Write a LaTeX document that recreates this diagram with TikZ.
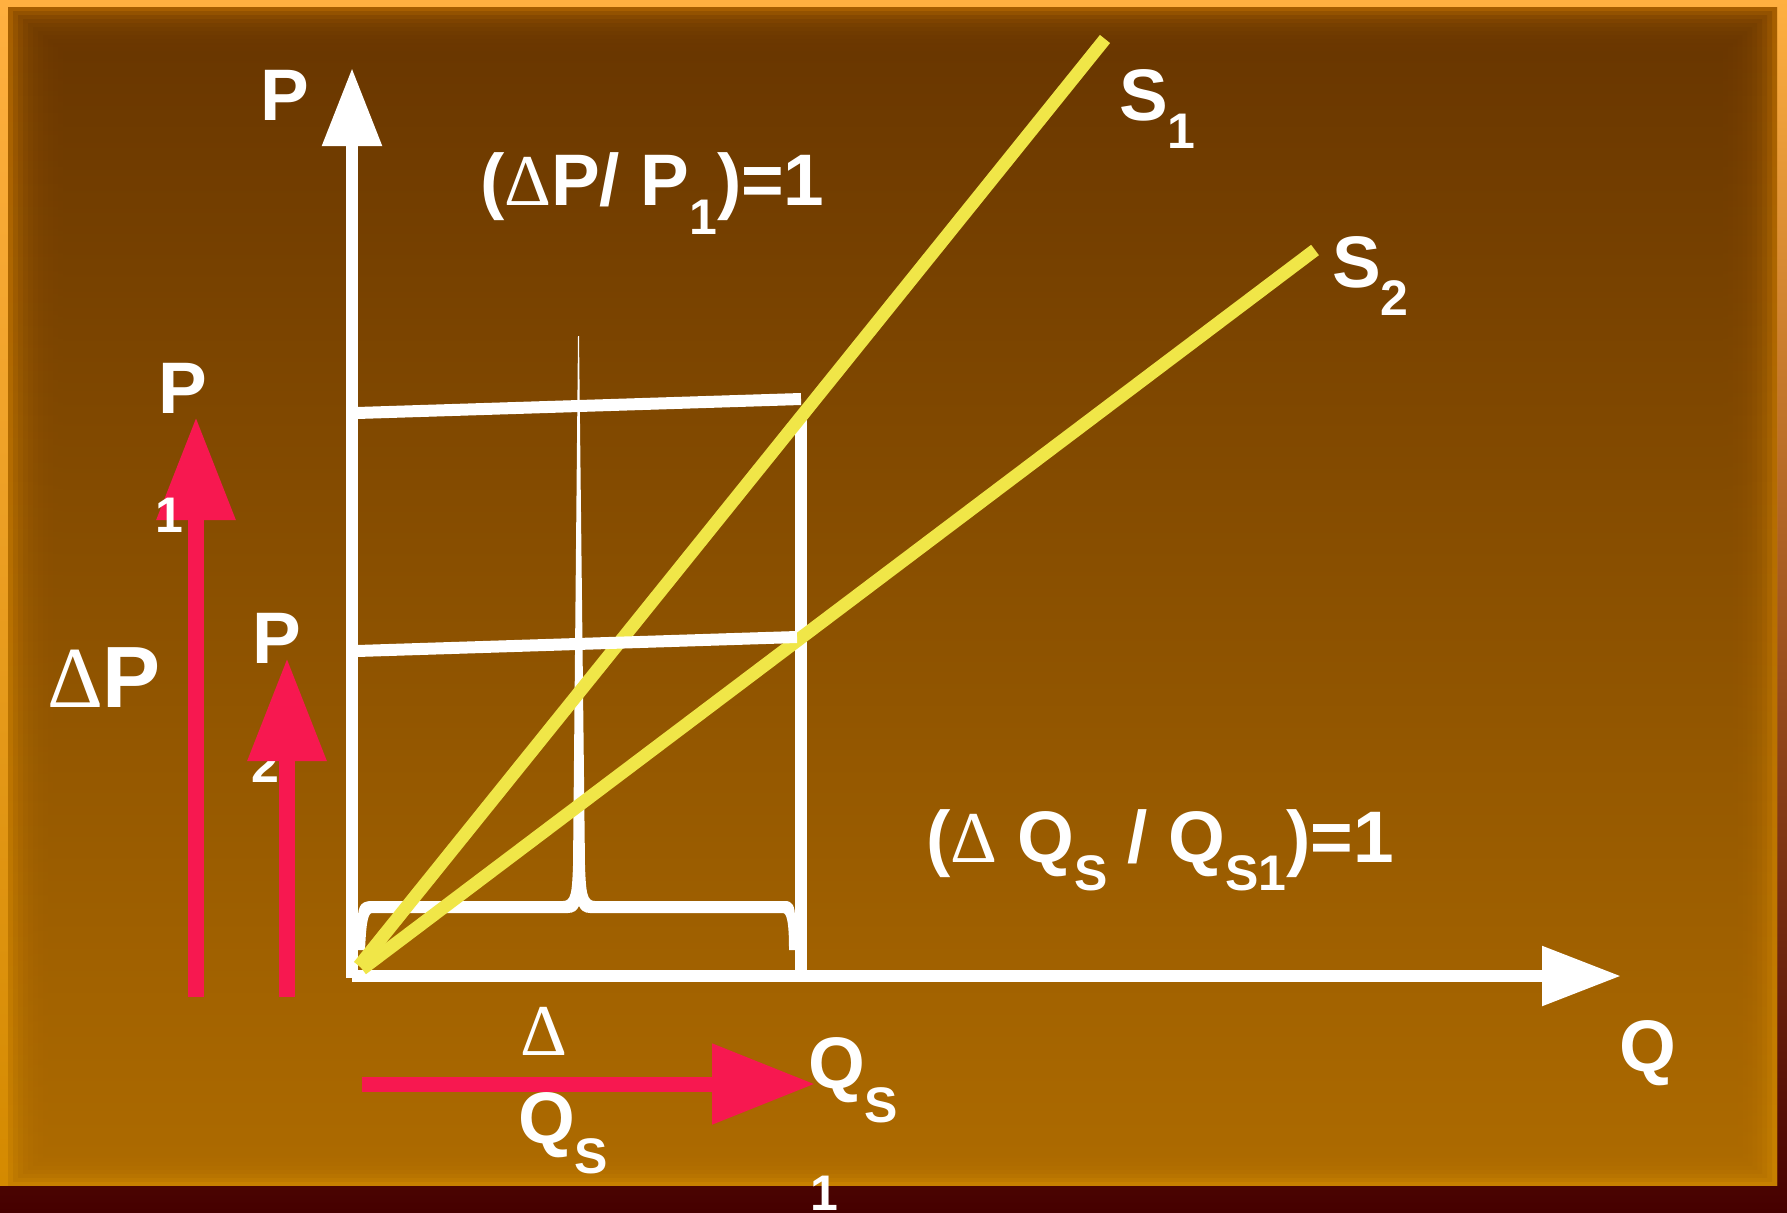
\documentclass[tikz,border=0pt]{standalone}
\usepackage{fontspec}
\setmainfont{Liberation Sans}
\newfontfamily\dl{Liberation Serif}
\usetikzlibrary{arrows.meta}
\definecolor{supplyyellow}{HTML}{F0E648}
\definecolor{arrowred}{HTML}{F71850}
\definecolor{frametop}{HTML}{FFB040}
\definecolor{framemid}{HTML}{A05600}
\definecolor{framebot}{HTML}{460000}
\definecolor{glowtop}{HTML}{C07000}
\definecolor{glowbot}{HTML}{D48A00}
\definecolor{browntop}{HTML}{6A3700}
\definecolor{brownbot}{HTML}{AC6A00}
\newcommand{\lowsub}[2][-28pt]{\raisebox{#1}{\fontsize{50}{50}\selectfont #2}}
\newcommand{\del}{{\dl\mdseries Δ}}
\tikzset{
  lbl/.style={text=white, inner sep=0pt, outer sep=0pt, anchor=base west,
    font=\bfseries\fontsize{73}{80}\selectfont},
  sublbl/.style={lbl, font=\bfseries\fontsize{50}{50}\selectfont},
  axisline/.style={draw=white, line width=12pt, -{Triangle[length=78pt,width=57pt]}},
  guide/.style={draw=white, line width=12pt},
  supply/.style={draw=supplyyellow, line width=13pt},
  redarrow/.style={draw=arrowred, line width=16pt, -{Triangle[length=103pt,width=75pt]}}
}
\begin{document}
\begin{tikzpicture}[x=1pt,y=-1pt]
% background
\useasboundingbox (0,0) rectangle (1787,1212);
\shade[top color=frametop, middle color=framemid, bottom color=framebot] (0,0) rectangle (1787,1212);
\shade[top color=frametop, bottom color=glowbot] (0,0) rectangle (1777,1185);
\shade[top color=glowtop, bottom color=glowbot] (8,8) rectangle (1777,1185);
\foreach \i in {0,...,11}{
  \shade[top color=browntop, bottom color=brownbot, opacity=0.3]
    ({8+5*\i},{8+4*\i}) rectangle ({1777-5*\i},{1185-4*\i});
}
% coordinates
\coordinate (O) at (352,978);
\coordinate (Ptip) at (352,68);
\coordinate (Xo) at (352,976);
\coordinate (Qtip) at (1621,976);
\coordinate (P1l) at (357,413);
\coordinate (P1r) at (801,399);
\coordinate (P2l) at (357,651);
\coordinate (P2r) at (797,637);
\coordinate (Vt) at (801,417);
\coordinate (Vb) at (801,976);
\coordinate (S1a) at (359,966);
\coordinate (S1b) at (1105,39);
\coordinate (S2a) at (362,969);
\coordinate (S2b) at (1315,250);
% label partly hidden by the P2 arrow head
\node[sublbl] (p2sub) at (251,782) {2};
% guide lines and brace
\draw[guide] (Vt) -- (Vb);
\fill[white] (358,950) -- (358,918) .. controls (358,905) and (362,901) .. (372,901)
  -- (563,901) .. controls (571,901) and (572,893) .. (573,866) -- (578,336) -- (579,336)
  -- (585,866) .. controls (586,893) and (587,901) .. (595,901) -- (785,901)
  .. controls (792,901) and (795,905) .. (795,918) -- (796,950) -- (789,950)
  .. controls (789,930) and (788,913) .. (783,913) -- (590,913)
  .. controls (584,913) and (581,910) .. (579,906) .. controls (577,910) and (574,913) .. (568,913)
  -- (372,913) .. controls (367,913) and (366,930) .. (365,950) -- cycle;
% axes
\draw[axisline] (O) -- (Ptip);
\draw[axisline, -{Triangle[length=79pt,width=57pt]}] (Xo) -- (Qtip);
% supply curves
\draw[supply] (S1a) -- (S1b);
\draw[supply] (S2a) -- (S2b);
\draw[guide] (P1l) -- (P1r);
\draw[guide] (P2l) -- (P2r);
% red arrows
\coordinate (A1b) at (196,997);
\coordinate (A1t) at (196,417);
\coordinate (A2b) at (287,997);
\coordinate (A2t) at (287,658);
\coordinate (A3l) at (362,1084);
\coordinate (A3r) at (815,1084);
\draw[redarrow] (A1b) -- (A1t);
\draw[redarrow] (A2b) -- (A2t);
\draw[redarrow, line width=15pt, -{Triangle[length=103pt,width=77pt]}] (A3l) -- (A3r);
% labels
\node[lbl] (plab) at (260,121) {P};
\node[lbl] (qlab) at (1619,1071) {Q};
\node[lbl] (elasP) at (480,205) {(\del P/ P\lowsub[-29pt]{1})=1};
\node[lbl] (s1lab) at (1119,121) {S\lowsub{1}};
\node[lbl] (s2lab) at (1332,287) {S\lowsub{2}};
\node[lbl] (p1lab) at (158,413) {P};
\node[sublbl] (p1sub) at (155,532) {1};
\node[lbl] (p2lab) at (252,663) {P};
\node[lbl, font=\bfseries\fontsize{87}{90}\selectfont] (dPlab) at (47,707) {\del P};
\node[lbl, font=\bfseries\fontsize{73}{80}\selectfont] (elasQ) at (926,862) {(\del\ Q\lowsub{S} / Q\lowsub{S1})=1};
\node[lbl] (dQtop) at (520,1055) {\del};
\node[lbl] (dQbot) at (518,1143) {Q\lowsub[-30pt]{S}};
\node[lbl] (qs1lab) at (808,1088) {Q\lowsub[-34pt]{S}};
\node[sublbl] (qs1sub) at (810,1210) {1};
\end{tikzpicture}
\end{document}
